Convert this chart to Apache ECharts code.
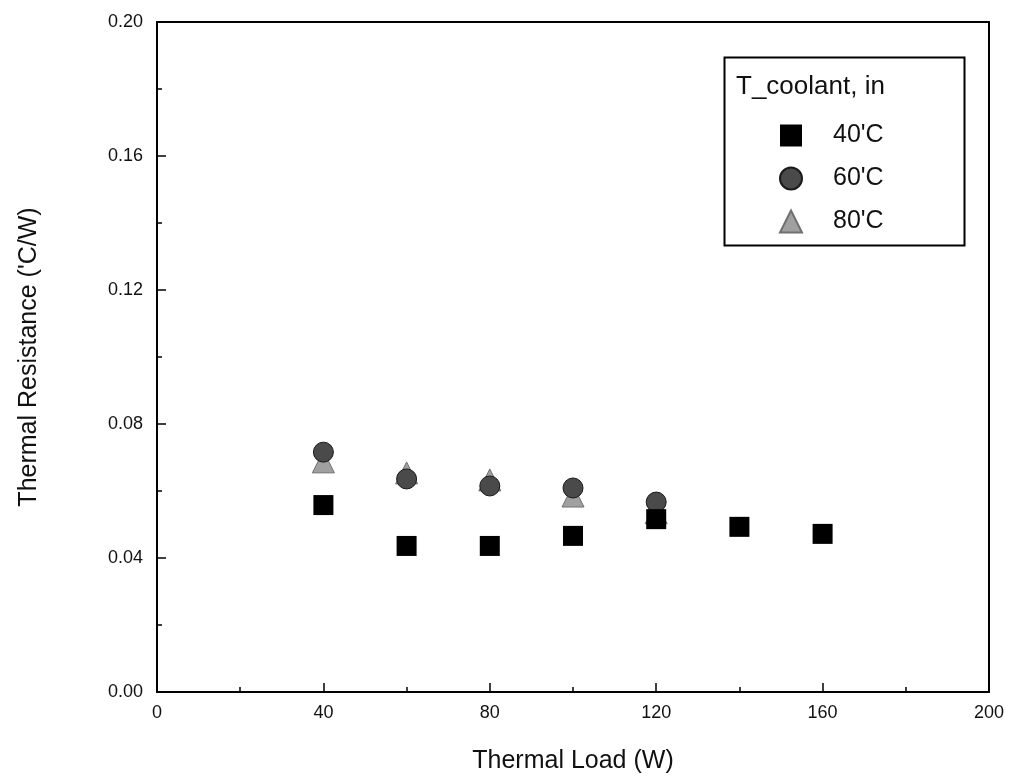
<!DOCTYPE html>
<html>
<head>
<meta charset="utf-8">
<script src="https://cdn.jsdelivr.net/npm/echarts@6/dist/echarts.min.js"></script>
<style>
  html, body { margin: 0; padding: 0; background: #fff; }
  #chart { width: 1012px; height: 783px; }
</style>
</head>
<body>
<div id="chart"></div>
<script>
// thermal load (W)
const loads40 = [40, 60, 80, 100, 120, 140, 160]
const loads60 = [40, 60, 80, 100, 120]
const loads80 = [40, 60, 80, 100, 120]

// thermal resistance ('C/W)
const res40 = [0.0558, 0.0436, 0.0436, 0.0466, 0.0516, 0.0493, 0.0472]
const res60 = [0.0716, 0.0636, 0.0615, 0.0609, 0.0567]
const res80 = [0.0687, 0.0654, 0.0633, 0.0585, 0.0535]

const seriesNames = ["40'C", "60'C", "80'C"]

const pairs = (xs, ys) => xs.map((x, i) => [x, ys[i]])

const font = 'Liberation Sans, Arial, sans-serif'

const chart = echarts.init(document.getElementById('chart'))

const tickCommon = {
  axisLine: { show: true, onZero: false, lineStyle: { color: '#000', width: 2 } },
  axisTick: { show: true, inside: true, length: 9, lineStyle: { color: '#000', width: 1.5 } },
  minorTick: { show: true, splitNumber: 2, length: 5, lineStyle: { color: '#000', width: 1.5 } },
  splitLine: { show: false },
}

chart.setOption({
  animation: false,
  backgroundColor: '#fff',
  grid: { left: 157, right: 23, top: 22, bottom: 91 },
  xAxis: [
    {
      type: 'value', min: 0, max: 200, interval: 40,
      ...tickCommon,
      axisLabel: { color: '#111', fontSize: 18, fontFamily: font, margin: 12 },
      name: 'Thermal Load (W)', nameLocation: 'middle', nameGap: 57,
      nameTextStyle: { color: '#111', fontSize: 25, fontFamily: font },
    },
    {
      type: 'value', min: 0, max: 200, interval: 40, position: 'top',
      ...tickCommon,
      axisTick: { show: false }, minorTick: { show: false },
      axisLabel: { show: false },
    },
  ],
  yAxis: [
    {
      type: 'value', min: 0, max: 0.2, interval: 0.04,
      ...tickCommon,
      axisLabel: { color: '#111', fontSize: 18, fontFamily: font, margin: 14, formatter: v => v.toFixed(2) },
      name: "Thermal Resistance ('C/W)", nameLocation: 'middle', nameGap: 115,
      nameTextStyle: { color: '#111', fontSize: 25, fontFamily: font },
    },
    {
      type: 'value', min: 0, max: 0.2, interval: 0.04, position: 'right',
      ...tickCommon,
      axisTick: { show: false }, minorTick: { show: false },
      axisLabel: { show: false },
    },
  ],
  legend: {
    orient: 'vertical', left: 774, top: 118,
    itemWidth: 22, itemHeight: 22, itemGap: 18,
    textStyle: { fontSize: 25, fontFamily: font, color: '#111', padding: [0, 0, 0, 26] },
    data: seriesNames,
  },
  graphic: [
    {
      type: 'rect', left: 722, top: 55, z: 10, silent: true,
      shape: { width: 240, height: 188 },
      style: { fill: 'none', stroke: '#000', lineWidth: 2 },
    },
    {
      type: 'text', left: 736, top: 74, z: 10,
      style: { text: 'T_coolant, in', font: '26px ' + font, fill: '#111' },
    },
  ],
  series: [
    {
      name: seriesNames[2], type: 'scatter', symbol: 'triangle', symbolSize: 22, z: 2,
      itemStyle: { color: '#a0a0a0', borderColor: '#707070', borderWidth: 1, opacity: 1 },
      data: pairs(loads80, res80),
    },
    {
      name: seriesNames[1], type: 'scatter', symbol: 'circle', symbolSize: 20, z: 3,
      itemStyle: { color: '#4a4a4a', borderColor: '#1a1a1a', borderWidth: 1, opacity: 1 },
      data: pairs(loads60, res60),
    },
    {
      name: seriesNames[0], type: 'scatter', symbol: 'rect', symbolSize: 20, z: 4,
      itemStyle: { color: '#000', opacity: 1 },
      data: pairs(loads40, res40),
    },
  ],
})
</script>
</body>
</html>
